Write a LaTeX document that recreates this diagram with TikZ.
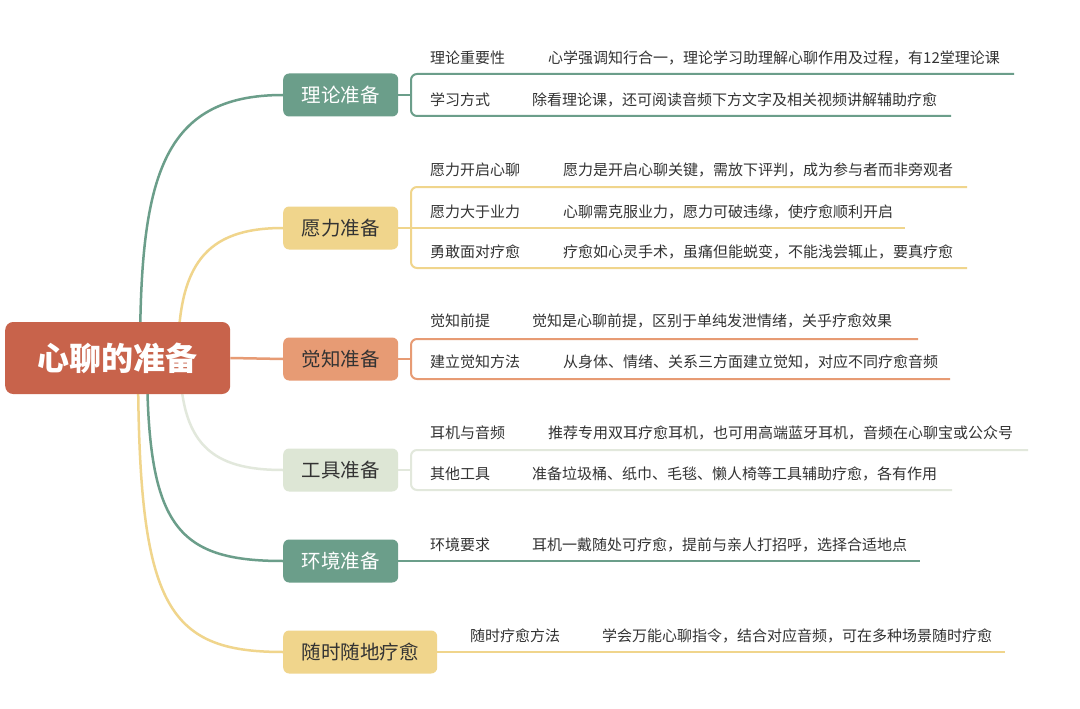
\documentclass[tikz,border=0pt]{standalone}
\usepackage{fontspec}
\setmainfont{Noto Sans CJK SC}
\usetikzlibrary{backgrounds}
\definecolor{cRoot}{HTML}{C8634B}
\definecolor{cTeal}{HTML}{6B9E8A}
\definecolor{cYel}{HTML}{F0D58C}
\definecolor{cSal}{HTML}{E79B74}
\definecolor{cLgr}{HTML}{DDE6D5}
\definecolor{cLgrL}{HTML}{E2E8DC}
\definecolor{cTxt}{HTML}{333333}
\tikzset{
  mainbox/.style={draw=none, rounded corners=6pt, minimum height=43pt, inner sep=0pt, anchor=west, font=\fontsize{19.5}{20}\selectfont},
  lbl/.style={anchor=west, inner sep=0pt, text=cTxt, font=\fontsize{15}{16}\selectfont},
  curve/.style={line width=2.5pt},
  brk/.style={line width=2pt, rounded corners=6pt},
  uline/.style={line width=2pt}
}
\begin{document}
\begin{tikzpicture}[x=1pt,y=-1pt]
\useasboundingbox (0,0) rectangle (1080,709);

% root start points
\coordinate (s1) at (140,358);
\coordinate (s2) at (178,358);
\coordinate (s4) at (180,358);
\coordinate (s5) at (147,358);
\coordinate (s6) at (138,358);

% root
\node[fill=cRoot, text=white, rounded corners=8pt, minimum width=225pt, minimum height=72pt, inner sep=0pt, font=\fontsize{32}{34}\selectfont\bfseries, anchor=west] (root) at (5,358) {心聊的准备};

% main nodes
\node[mainbox, fill=cTeal, text=white, minimum width=115pt] (m1) at (283,95) {理论准备};
\node[mainbox, fill=cYel, text=cTxt, minimum width=115pt] (m2) at (283,228) {愿力准备};
\node[mainbox, fill=cSal, text=cTxt, minimum width=115pt] (m3) at (283,359) {觉知准备};
\node[mainbox, fill=cLgr, text=cTxt, minimum width=115pt] (m4) at (283,470) {工具准备};
\node[mainbox, fill=cTeal, text=white, minimum width=115pt] (m5) at (283,561) {环境准备};
\node[mainbox, fill=cYel, text=cTxt, minimum width=154pt] (m6) at (283,652) {随时随地疗愈};

\begin{scope}[on background layer]
\fill[white] (0,0) rectangle (1080,709);
\draw[curve, cTeal] (s1) .. controls (140,180) and (160,95) .. (m1.west);
\draw[curve, cYel] (s2) .. controls (178,265) and (205,228) .. (m2.west);
\draw[curve, cLgrL] (s4) .. controls (180,445) and (212,470) .. (m4.west);
\draw[curve, cTeal] (s5) .. controls (147,525) and (175,561) .. (m5.west);
\draw[curve, cYel] (s6) .. controls (138,605) and (165,652) .. (m6.west);
\draw[curve, cSal] (root.east) -- (m3.west);
\end{scope}

% ---- branch 1
\node[lbl] (l11) at (430,58) {理论重要性};
\node[lbl] (d11) at (548,58) {心学强调知行合一，理论学习助理解心聊作用及过程，有12堂理论课};
\node[lbl] (l12) at (430,100) {学习方式};
\node[lbl] (d12) at (532,100) {除看理论课，还可阅读音频下方文字及相关视频讲解辅助疗愈};
\coordinate (b1) at (411,95);
\coordinate (e11) at (1014,74);
\coordinate (e12) at (951,116);
\draw[uline, cTeal] (m1.east) -- (b1);
\draw[brk, cTeal] (e11) -- (411,74) -- (411,116) -- (e12);

% ---- branch 2
\node[lbl] (l21) at (430,170) {愿力开启心聊};
\node[lbl] (d21) at (563,170) {愿力是开启心聊关键，需放下评判，成为参与者而非旁观者};
\node[lbl] (l22) at (430,212) {愿力大于业力};
\node[lbl] (d22) at (563,212) {心聊需克服业力，愿力可破违缘，使疗愈顺利开启};
\node[lbl] (l23) at (430,252) {勇敢面对疗愈};
\node[lbl] (d23) at (563,252) {疗愈如心灵手术，虽痛但能蜕变，不能浅尝辄止，要真疗愈};
\coordinate (b2) at (411,228);
\coordinate (e21) at (967,187);
\coordinate (e22) at (905,228);
\coordinate (e23) at (967,268);
\draw[uline, cYel] (m2.east) -- (b2);
\draw[brk, cYel] (e21) -- (411,187) -- (411,268) -- (e23);
\draw[uline, cYel] (b2) -- (e22);

% ---- branch 3
\node[lbl] (l31) at (430,321) {觉知前提};
\node[lbl] (d31) at (532,321) {觉知是心聊前提，区别于单纯发泄情绪，关乎疗愈效果};
\node[lbl] (l32) at (430,362) {建立觉知方法};
\node[lbl] (d32) at (563,362) {从身体、情绪、关系三方面建立觉知，对应不同疗愈音频};
\coordinate (b3) at (411,359);
\coordinate (e31) at (918,339);
\coordinate (e32) at (950,379);
\draw[uline, cSal] (m3.east) -- (b3);
\draw[brk, cSal] (e31) -- (411,339) -- (411,379) -- (e32);

% ---- branch 4
\node[lbl] (l41) at (430,433) {耳机与音频};
\node[lbl] (d41) at (548,433) {推荐专用双耳疗愈耳机，也可用高端蓝牙耳机，音频在心聊宝或公众号};
\node[lbl] (l42) at (430,474) {其他工具};
\node[lbl] (d42) at (532,474) {准备垃圾桶、纸巾、毛毯、懒人椅等工具辅助疗愈，各有作用};
\coordinate (b4) at (411,470);
\coordinate (e41) at (1028,450);
\coordinate (e42) at (952,490);
\draw[uline, cLgrL] (m4.east) -- (b4);
\draw[brk, cLgrL] (e41) -- (411,450) -- (411,490) -- (e42);

% ---- branch 5
\node[lbl] (l51) at (430,545) {环境要求};
\node[lbl] (d51) at (532,545) {耳机一戴随处可疗愈，提前与亲人打招呼，选择合适地点};
\coordinate (e51) at (920,561);
\draw[uline, cTeal] (m5.east) -- (e51);

% ---- branch 6
\node[lbl] (l61) at (470,636) {随时疗愈方法};
\node[lbl] (d61) at (602,636) {学会万能心聊指令，结合对应音频，可在多种场景随时疗愈};
\coordinate (e61) at (1005,652);
\draw[uline, cYel] (m6.east) -- (e61);
\end{tikzpicture}
\end{document}
